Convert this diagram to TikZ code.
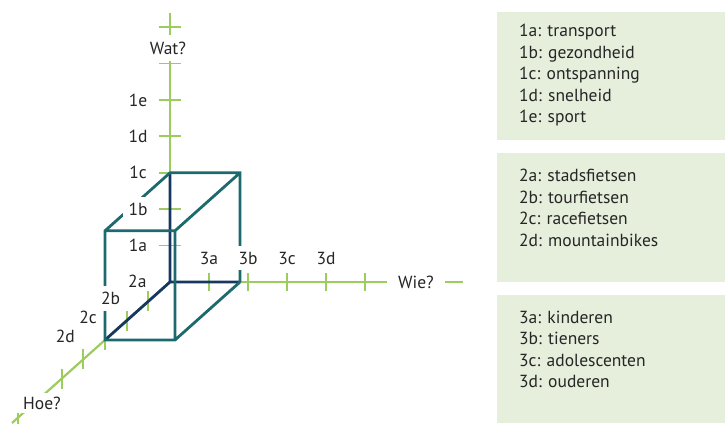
\documentclass[tikz,border=0pt]{standalone}
\usepackage{fontspec}
\setmainfont{PT Sans}
\usetikzlibrary{positioning}

\definecolor{axisgreen}{HTML}{9CCB5E}
\definecolor{cubeteal}{HTML}{1C6A6E}
\definecolor{cubenavy}{HTML}{16385F}
\definecolor{panelgreen}{HTML}{E6EEDC}
\definecolor{textgray}{HTML}{262626}

\begin{document}
\begin{tikzpicture}[x=1pt,y=1pt,
    every node/.style={text=textgray,font=\fontsize{17.5}{20}\selectfont,inner sep=0pt},
    axis/.style={axisgreen,line width=2.2pt},
    tick/.style={axisgreen,line width=1.8pt},
    frontedge/.style={cubeteal,line width=2.8pt},
    backedge/.style={cubenavy,line width=2.8pt},
    gap/.style={fill=white,inner sep=6pt},
    axlabel/.style={fill=white,inner xsep=8pt,inner ysep=7pt},
    panel/.style={fill=panelgreen},
    item/.style={anchor=base west}]

  \useasboundingbox (-170,-141) rectangle (555,282);

  % the three axes
  \coordinate (O)   at (0,0);
  \coordinate (top) at (0,269);
  \coordinate (end) at (293,0);
  \coordinate (low) at (-158,-141);
  \draw[axis] (O) -- (top);
  \draw[axis] (O) -- (end);
  \draw[axis] (O) -- (low);

  \foreach \i in {1,...,7} {
    \coordinate (w\i) at (0,36.4*\i);
    \draw[tick] (-11,36.4*\i) -- (11,36.4*\i);
  }
  \foreach \i in {1,...,5} {
    \coordinate (h\i) at (39*\i,0);
    \draw[tick] (39*\i,-9) -- (39*\i,9);
  }
  \foreach \i in {1,...,5,7} {
    \coordinate (d\i) at (-21.67*\i,-19.33*\i);
    \draw[tick] (d\i) ++(0,-10) -- ++(0,20);
  }

  % the block
  \coordinate (B1) at (70,0);
  \coordinate (B2) at (70,109.2);
  \coordinate (B3) at (0,109.2);
  \coordinate (F0) at (-65,-58);
  \coordinate (F1) at (5,-58);
  \coordinate (F2) at (5,51.2);
  \coordinate (F3) at (-65,51.2);

  \draw[backedge] (B3) -- (O) -- (B1) (O) -- (F0);
  \draw[frontedge] (B1) -- (B2) -- (B3) -- (F3) -- (F0) -- (F1) -- (B1)
                   (F3) -- (F2) -- (F1) (F2) -- (B2);

  % tick labels
  \path (w1) ++(-32,0) node (1a) {1a};
  \path (w2) ++(-32,0) node[gap] (1b) {1b};
  \path (w3) ++(-32,0) node (1c) {1c};
  \path (w4) ++(-32,0) node (1d) {1d};
  \path (w5) ++(-32,0) node (1e) {1e};

  \path (d1) ++(-11,20) node (2a) {2a};
  \path (d2) ++(-16,22) node[gap] (2b) {2b};
  \path (d3) ++(-17,23) node (2c) {2c};
  \path (d4) ++(-18,23) node (2d) {2d};

  \path (h1) ++(0,24) node (3a) {3a};
  \path (h2) ++(0,24) node[gap] (3b) {3b};
  \path (h3) ++(0,24) node (3c) {3c};
  \path (h4) ++(0,24) node (3d) {3d};

  \node[axlabel] (wat) at (-2,234) {Wat?};
  \node[axlabel,inner xsep=11pt] (wie) at (246,0) {Wie?};
  \node[axlabel,inner ysep=4pt] (hoe) at (-128,-121) {Hoe?};

  % legend panels
  \path[panel] (327,142) rectangle (555,270);
  \path[panel] (327,0) rectangle (555,129);
  \path[panel] (327,-141) rectangle (555,-13);

  \foreach \t [count=\i] in {1a: transport, 1b: gezondheid, 1c: ontspanning,
                             1d: snelheid, 1e: sport}
    \node[item] (p1\i) at (349,266.5-21.5*\i) {\t};
  \foreach \t [count=\i] in {2a: stadsfietsen, 2b: tourfietsen, 2c: racefietsen,
                             2d: mountainbikes}
    \node[item] (p2\i) at (349,121.5-21.5*\i) {\t};
  \foreach \t [count=\i] in {3a: kinderen, 3b: tieners, 3c: adolescenten,
                             3d: ouderen}
    \node[item] (p3\i) at (349,-19.5-21.5*\i) {\t};
\end{tikzpicture}
\end{document}
